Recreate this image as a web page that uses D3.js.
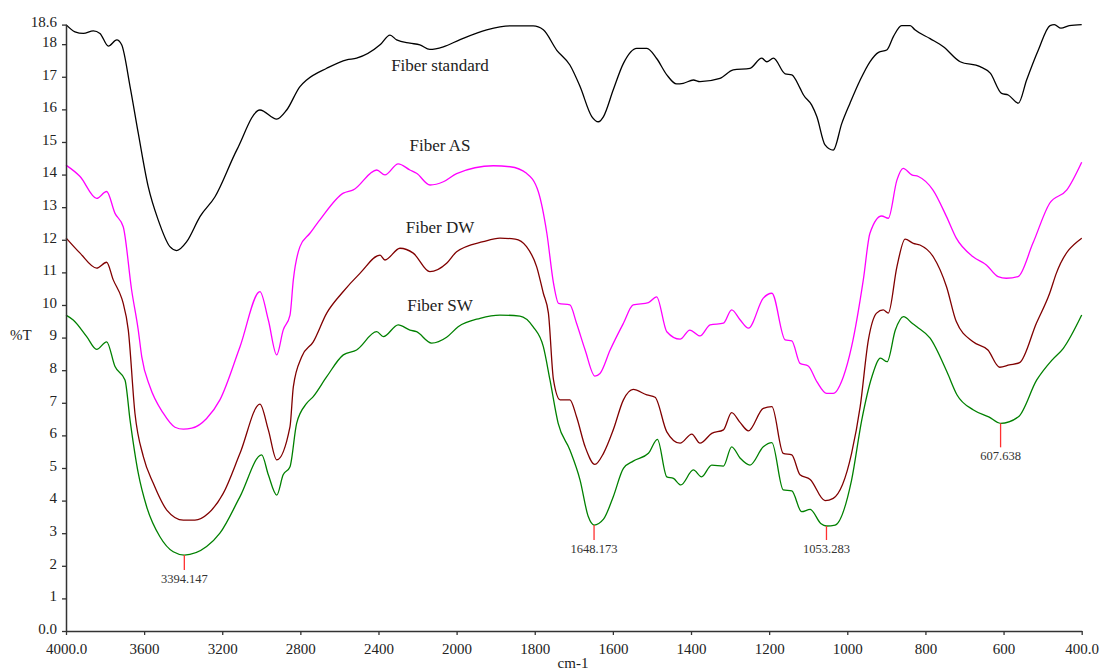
<!DOCTYPE html>
<html>
<head>
<meta charset="utf-8">
<script src="https://cdn.jsdelivr.net/npm/d3@7"></script>
<style>
  html, body { margin: 0; padding: 0; background: #fff; }
  svg { display: block; }
  text { font-family: "Liberation Serif", "Times New Roman", serif; fill: #222; }
</style>
</head>
<body>
<svg id="chart" width="1101" height="671"></svg>
<script>
// FTIR spectra: [wavenumber (cm-1), transmittance (%T)]
const fiberStandard = [
  [4000,18.6],[3954,18.38],[3911,18.33],[3860,18.41],[3826,18.33],[3783,17.94],[3740,18.13],
  [3715,17.98],[3672,16.7],[3630,15.27],[3579,13.63],[3528,12.61],[3468,11.79],[3433,11.67],
  [3382,11.94],[3314,12.71],[3237,13.32],[3126,14.75],[3007,15.98],[2921,15.7],[2870,15.98],
  [2802,16.7],[2768,16.9],[2665,17.26],[2563,17.52],[2512,17.57],[2392,17.98],[2341,18.28],
  [2307,18.13],[2239,18.03],[2188,17.98],[2137,17.84],[2068,17.92],[1991,18.14],[1923,18.44],
  [1863,18.56],[1804,18.56],[1778,18.44],[1744,17.82],[1710,17.36],[1684,16.7],[1654,15.78],
  [1637,15.62],[1624,15.78],[1599,16.6],[1573,17.41],[1539,17.87],[1513,17.87],[1488,17.56],
  [1462,17.06],[1437,16.78],[1420,16.8],[1394,16.9],[1377,16.85],[1326,16.95],[1292,17.21],
  [1249,17.26],[1219,17.57],[1206,17.46],[1189,17.57],[1159,17.09],[1142,17.06],[1121,16.65],
  [1112,16.44],[1091,16.13],[1078,15.78],[1057,14.91],[1036,14.75],[1014,15.57],[993,16.19],
  [967,16.9],[942,17.46],[920,17.75],[899,17.82],[882,18.23],[861,18.57],[839,18.57],[827,18.44],
  [788,18.17],[754,17.92],[711,17.46],[660,17.31],[634,17.11],[605,16.49],[588,16.44],[562,16.19],
  [541,16.9],[511,17.82],[481,18.57],[470,18.6],[453,18.49],[432,18.57],[400,18.6]
];

const fiberAS = [
  [4000,14.29],[3928,13.94],[3843,13.27],[3792,13.48],[3749,12.81],[3707,12.4],[3664,10.46],
  [3630,9.23],[3612,8.41],[3570,7.49],[3502,6.68],[3442,6.25],[3399,6.19],[3356,6.22],
  [3280,6.52],[3212,7.09],[3109,8.72],[3007,10.41],[2964,9.54],[2921,8.47],[2888,9.23],
  [2853,9.69],[2836,10.77],[2802,11.79],[2751,12.2],[2700,12.61],[2580,13.43],[2529,13.53],
  [2409,14.14],[2367,13.99],[2299,14.33],[2239,14.14],[2205,14.04],[2136,13.68],[2068,13.78],
  [2000,14.03],[1906,14.27],[1863,14.24],[1821,14.04],[1791,13.48],[1769,12.2],[1752,10.67],
  [1739,10.05],[1710,10.0],[1693,9.44],[1671,8.62],[1646,7.82],[1633,7.9],[1607,8.62],
  [1573,9.44],[1548,10.0],[1509,10.07],[1488,10.25],[1462,9.18],[1428,8.95],[1403,9.23],
  [1377,9.05],[1351,9.39],[1317,9.44],[1296,9.85],[1274,9.54],[1253,9.29],[1215,10.21],
  [1193,10.36],[1159,8.93],[1142,8.9],[1121,8.21],[1100,8.13],[1078,7.65],[1053,7.29],
  [1036,7.29],[1010,7.8],[989,8.72],[959,10.77],[942,12.2],[912,12.73],[895,12.66],[873,13.83],
  [857,14.19],[835,13.99],[818,13.94],[781,13.53],[746,12.71],[721,12.05],[678,11.48],
  [644,11.23],[614,10.87],[593,10.82],[563,10.87],[525,11.89],[482,13.12],[438,13.53],[400,14.38]
];

const fiberDW = [
  [4000,12.06],[3928,11.59],[3843,11.13],[3792,11.31],[3758,10.77],[3715,10.21],[3707,10.05],
  [3681,9.23],[3647,6.68],[3604,5.35],[3553,4.53],[3484,3.71],[3399,3.4],[3340,3.4],
  [3271,3.61],[3195,4.22],[3109,5.45],[3007,6.96],[2964,6.17],[2921,5.25],[2853,6.27],
  [2836,7.49],[2793,8.41],[2734,8.87],[2665,9.75],[2588,10.36],[2495,10.97],[2392,11.53],
  [2367,11.38],[2290,11.74],[2222,11.59],[2137,11.02],[2051,11.28],[2000,11.63],[1932,11.94],
  [1889,12.05],[1850,12.02],[1821,11.79],[1795,11.17],[1778,10.36],[1765,9.75],[1752,7.7],
  [1735,7.09],[1710,7.09],[1693,6.57],[1671,5.65],[1646,5.11],[1624,5.45],[1599,6.17],
  [1573,7.09],[1548,7.41],[1513,7.24],[1492,7.17],[1462,6.11],[1428,5.76],[1398,6.04],
  [1377,5.76],[1347,6.06],[1317,6.17],[1296,6.7],[1274,6.39],[1253,6.14],[1215,6.83],
  [1193,6.88],[1164,5.45],[1142,5.4],[1121,4.79],[1095,4.65],[1057,4.0],[1036,4.07],
  [989,5.45],[967,6.88],[946,8.93],[925,9.75],[908,9.85],[895,9.75],[873,11.17],[852,12.02],
  [831,11.89],[814,11.84],[780,11.48],[746,10.56],[721,9.49],[678,8.87],[640,8.62],[610,8.09],
  [585,8.16],[559,8.23],[516,9.44],[482,10.36],[465,10.97],[400,12.05]
];

const fiberSW = [
  [4000,9.69],[3963,9.54],[3894,9.03],[3843,8.64],[3792,8.87],[3749,8.11],[3698,7.7],
  [3672,6.47],[3630,4.84],[3587,3.81],[3519,2.89],[3451,2.43],[3394.147,2.33],[3280,2.59],
  [3212,3.0],[3109,4.12],[2998,5.4],[2964,4.79],[2921,4.17],[2888,4.79],[2853,5.04],
  [2819,6.37],[2768,6.98],[2734,7.19],[2665,7.8],[2580,8.47],[2512,8.62],[2409,9.18],
  [2375,9.03],[2299,9.39],[2239,9.23],[2205,9.18],[2128,8.83],[2051,9.01],[1996,9.33],
  [1940,9.59],[1889,9.69],[1838,9.66],[1804,9.33],[1778,8.72],[1761,7.7],[1740,6.37],
  [1710,5.55],[1684,4.63],[1663,3.51],[1648.173,3.25],[1624,3.43],[1599,4.12],[1573,4.99],
  [1548,5.21],[1509,5.45],[1486,5.88],[1462,4.73],[1445,4.68],[1426,4.48],[1394,4.94],
  [1373,4.73],[1347,5.09],[1317,5.06],[1296,5.65],[1274,5.3],[1249,5.09],[1215,5.65],
  [1193,5.78],[1164,4.33],[1142,4.3],[1117,3.66],[1095,3.73],[1068,3.3],[1053.283,3.22],
  [1031,3.25],[989,4.63],[963,6.47],[937,7.8],[915,8.37],[898,8.26],[877,9.23],[856,9.64],
  [834,9.44],[822,9.33],[788,8.98],[745,7.95],[719,7.24],[677,6.78],[638,6.57],[607.638,6.37],
  [562,6.57],[515,7.7],[476,8.31],[447,8.67],[400,9.69]
];

// Series names, colours and label anchors (wavenumber, %T)
const seriesNames = ["Fiber standard", "Fiber AS", "Fiber DW", "Fiber SW"];
const seriesColors = ["#000000", "#ff00ff", "#800000", "#008000"];
const labelAnchors = [[2085, 17.18], [2085, 14.73], [2085, 12.22], [2085, 9.83]];

// Marked absorption bands on the Fiber SW trace
const peakPositions = [3394.147, 1648.173, 1053.283, 607.638];
const peakStemLengths = [15, 15, 14, 24];

// Axis ticks
const xTickValues = [4000, 3600, 3200, 2800, 2400, 2000, 1800, 1600, 1400, 1200, 1000, 800, 600, 400];
const yTickValues = [0, 1, 2, 3, 4, 5, 6, 7, 8, 9, 10, 11, 12, 13, 14, 15, 16, 17, 18, 18.6];

const svg = d3.select("#chart");

// Wavenumber axis with the usual scale change at 2000 cm-1
const x = d3.scaleLinear().domain([4000, 2000, 400]).range([66, 456.6, 1081.7]);
const y = d3.scaleLinear().domain([0, 18.6]).range([631, 24.6]);

const line = d3.line()
  .x(d => x(d[0]))
  .y(d => y(d[1]))
  .curve(d3.curveMonotoneX);

const allSeries = [fiberStandard, fiberAS, fiberDW, fiberSW];

svg.append("g").selectAll("path")
  .data(allSeries)
  .join("path")
  .attr("d", line)
  .attr("fill", "none")
  .attr("stroke", (d, i) => seriesColors[i])
  .attr("stroke-width", 1.3)
  .attr("stroke-linejoin", "round");

// Series labels
svg.append("g").selectAll("text")
  .data(seriesNames)
  .join("text")
  .attr("x", (d, i) => x(labelAnchors[i][0]))
  .attr("y", (d, i) => y(labelAnchors[i][1]))
  .attr("text-anchor", "middle")
  .attr("font-size", 17)
  .text(d => d);

// Peak markers
function interpT(series, wn) {
  for (let i = 0; i < series.length - 1; i++) {
    const a = series[i], b = series[i + 1];
    if (wn <= a[0] && wn >= b[0]) {
      const t = (a[0] - wn) / (a[0] - b[0] || 1);
      return a[1] + t * (b[1] - a[1]);
    }
  }
  return series[series.length - 1][1];
}

const peaks = svg.append("g").selectAll("g")
  .data(peakPositions)
  .join("g");

peaks.append("line")
  .attr("x1", d => x(d)).attr("x2", d => x(d))
  .attr("y1", d => y(interpT(fiberSW, d)))
  .attr("y2", (d, i) => y(interpT(fiberSW, d)) + peakStemLengths[i])
  .attr("stroke", "#ff3030")
  .attr("stroke-width", 1.3);

peaks.append("text")
  .attr("x", d => x(d))
  .attr("y", (d, i) => y(interpT(fiberSW, d)) + peakStemLengths[i] + 13)
  .attr("text-anchor", "middle")
  .attr("font-size", 12.5)
  .style("fill", "#333")
  .text(d => d.toFixed(3));

// Axes
const xAxis = d3.axisBottom(x)
  .tickValues(xTickValues)
  .tickSize(4)
  .tickSizeOuter(0)
  .tickPadding(8)
  .tickFormat(d => (d === 4000 || d === 400) ? d.toFixed(1) : String(d));

const yAxis = d3.axisLeft(y)
  .tickValues(yTickValues)
  .tickSize(4)
  .tickSizeOuter(0)
  .tickPadding(5)
  .tickFormat(d => (d === 0 || d === 18.6) ? d.toFixed(1) : String(d));

const gx = svg.append("g").attr("transform", `translate(0,${y(0)})`).call(xAxis);
const gy = svg.append("g").attr("transform", `translate(${x(4000)},0)`).call(yAxis);

[gx, gy].forEach(g => {
  g.selectAll("path.domain").attr("stroke", "#333").attr("stroke-width", 1.5);
  g.selectAll(".tick line").attr("stroke", "#333").attr("stroke-width", 1.3);
  g.selectAll(".tick text")
    .attr("font-family", "Liberation Serif, Times New Roman, serif")
    .attr("font-size", 15)
    .attr("fill", "#222");
});
gy.selectAll(".tick text").attr("dy", "0.15em");

// Axis titles
svg.append("text")
  .attr("x", 10).attr("y", 340)
  .attr("font-size", 15)
  .text("%T");

svg.append("text")
  .attr("x", 573).attr("y", 668)
  .attr("text-anchor", "middle")
  .attr("font-size", 15)
  .text("cm-1");
</script>
</body>
</html>
